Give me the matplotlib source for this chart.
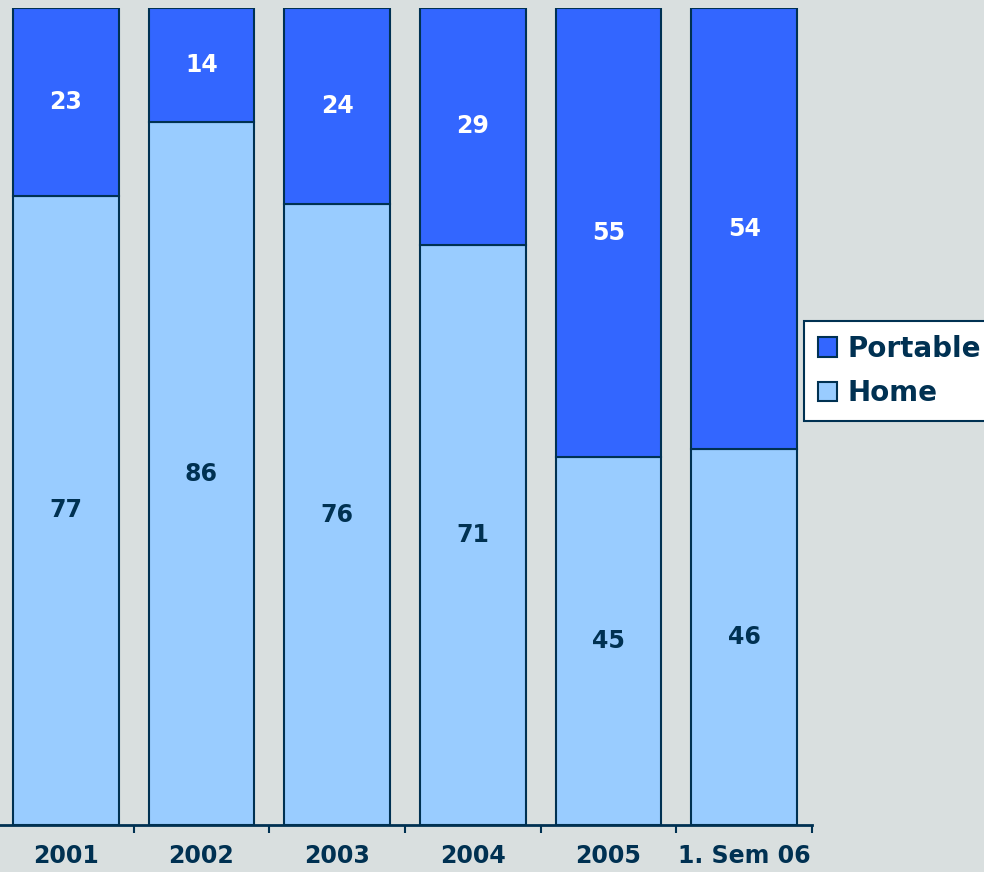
import matplotlib.pyplot as plt
import numpy as np

categories = ["2001", "2002", "2003", "2004", "2005", "1. Sem 06"]
home = [77, 86, 76, 71, 45, 46]
portable = [23, 14, 24, 29, 55, 54]

bg = "#d9dfdf"
navy = "#003152"
c_port = "#3366ff"
c_home = "#99ccff"

fig = plt.figure(figsize=(9.84, 8.72), dpi=100, facecolor=bg)
ax = fig.add_axes([-2 / 984, 47 / 872, 814 / 984, 817 / 872])
ax.set_facecolor(bg)

x = np.arange(len(categories))
w = 0.78
b1 = ax.bar(x, home, w, color=c_home, edgecolor=navy, linewidth=1.5, label="Home")
b2 = ax.bar(x, portable, w, bottom=home, color=c_port, edgecolor=navy,
            linewidth=1.5, label="Portable")

font = dict(fontweight="bold", fontsize=17)
for i in range(len(categories)):
    ax.text(x[i], home[i] / 2, str(home[i]), ha="center", va="center",
            color=navy, **font)
    ax.text(x[i], home[i] + portable[i] / 2, str(portable[i]), ha="center",
            va="center", color="white", **font)

ax.set_xlim(-0.5, 5.5)
ax.set_ylim(0, 100)
for s in ["top", "right", "left"]:
    ax.spines[s].set_visible(False)
ax.spines["bottom"].set_color(navy)
ax.spines["bottom"].set_linewidth(2)
ax.set_yticks([])
ax.set_xticks(x)
ax.set_xticklabels(categories, color=navy, **font)
ax.tick_params(axis="x", which="major", length=0, pad=14)
ax.set_xticks(np.arange(0.5, 6, 1), minor=True)
ax.tick_params(axis="x", which="minor", length=6, width=1.5, color=navy)

leg = fig.legend(handles=[b2, b1], loc="center left",
                 bbox_to_anchor=(804 / 984, 1 - 371 / 872),
                 frameon=True, fancybox=False, edgecolor=navy,
                 facecolor="white", framealpha=1,
                 prop=dict(weight="bold", size=20), handlelength=0.7,
                 handleheight=0.7, handletextpad=0.35, labelspacing=0.6,
                 borderpad=0.5, borderaxespad=0)
leg.get_frame().set_linewidth(1.5)
for t in leg.get_texts():
    t.set_color(navy)

fig.savefig("out.png", dpi=100, facecolor=bg)
